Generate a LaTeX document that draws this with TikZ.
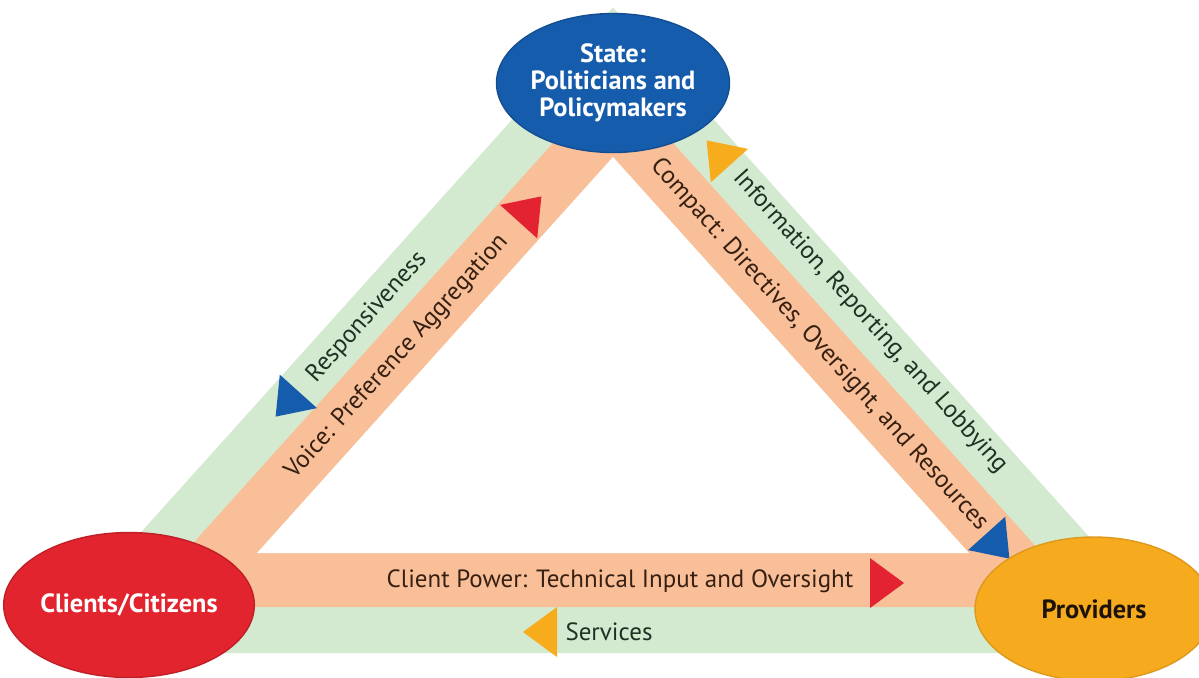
\documentclass[tikz,border=0pt]{standalone}
\usepackage{fontspec}
\setmainfont{PT Sans}
\usetikzlibrary{shapes.geometric, calc}

\definecolor{bandorange}{RGB}{248,191,152}
\definecolor{bandgreen}{RGB}{212,234,208}
\definecolor{stateblue}{RGB}{22,92,172}
\definecolor{clientred}{RGB}{226,36,46}
\definecolor{provgold}{RGB}{246,170,30}
\definecolor{tipred}{RGB}{228,35,50}
\definecolor{tipblue}{RGB}{22,92,172}
\definecolor{tipgold}{RGB}{246,172,28}
\definecolor{inkbrown}{RGB}{55,32,18}
\definecolor{inkgreen}{RGB}{30,50,36}

\begin{document}
\begin{tikzpicture}[x=0.02cm, y=-0.02cm,
    actor/.style={ellipse, inner sep=0pt, align=center, line width=0.8pt,
        font=\fontsize{15}{15.4}\selectfont\bfseries},
    bandtext/.style={inner sep=0pt, font=\fontsize{14.2}{16}\selectfont},
    bandhead/.pic={\fill (17,0) -- (-17,25) -- (-17,-25) -- cycle;},
]
\useasboundingbox (0,0) rectangle (1199,677);
\clip (0,0) rectangle (1199,677);

% ---- bands: green outside, orange inside ----
\coordinate (gA)  at (613,7.5);
\coordinate (gB1) at (116,560);
\coordinate (gB2) at (129,653);
\coordinate (gC2) at (1094,653);
\coordinate (gC1) at (1110,560);
\coordinate (oA) at (613,76.3);
\coordinate (oB) at (135.7,607);
\coordinate (oC) at (1090.3,607);
\coordinate (iA) at (613,157);
\coordinate (iB) at (257,553);
\coordinate (iC) at (969,553);

\fill[bandgreen] (gA) -- (gC1) -- (gC2) -- (gB2) -- (gB1) -- cycle;
\fill[bandorange] (oA) -- (oC) -- (oB) -- cycle;
\fill[white] (iA) -- (iC) -- (iB) -- cycle;

% ---- arrow heads on the bands ----
\pic[tipred, rotate=48] (voicehead) at (530,209) {bandhead};
\pic[tipblue, rotate=228] (resphead) at (287,404) {bandhead};
\pic[tipgold, rotate=132] (infohead) at (718,153) {bandhead};
\pic[tipblue, rotate=-48] (compacthead) at (998,546) {bandhead};
\pic[tipred] (powerhead) at (887,583) {bandhead};
\pic[tipgold, rotate=180] (servhead) at (540,632) {bandhead};

% ---- band labels ----
\node[bandtext, text=inkbrown] (power) at (620,581)
    {Client Power: Technical Input and Oversight};
\node[bandtext, text=inkgreen] (services) at (609,632) {Services};
\node[bandtext, text=inkgreen, rotate=48] (resp) at (367,317)
    {Responsiveness};
\node[bandtext, text=inkbrown, rotate=48] (voice) at (397,357)
    {Voice: Preference Aggregation};
\node[bandtext, text=inkbrown, rotate=-48] (compact) at (819,345)
    {Compact: Directives, Oversight, and Resources};
\node[bandtext, text=inkgreen, rotate=-48] (info) at (870,322)
    {Information, Reporting, and Lobbying};

% ---- actors ----
\node[actor, fill=stateblue, draw=stateblue!85!black, text=white,
    minimum width=4.64cm, minimum height=2.78cm] (state) at (613,83)
    {State:\\Politicians and\\Policymakers};
\node[actor, fill=clientred, draw=clientred!85!black, text=white,
    minimum width=4.76cm, minimum height=2.9cm] (clients) at (129,605)
    {Clients/Citizens};
\node[actor, fill=provgold, draw=provgold!90!black, text=black!85!brown,
    minimum width=4.76cm, minimum height=2.88cm] (providers) at (1094,609)
    {Providers};

\end{tikzpicture}
\end{document}
